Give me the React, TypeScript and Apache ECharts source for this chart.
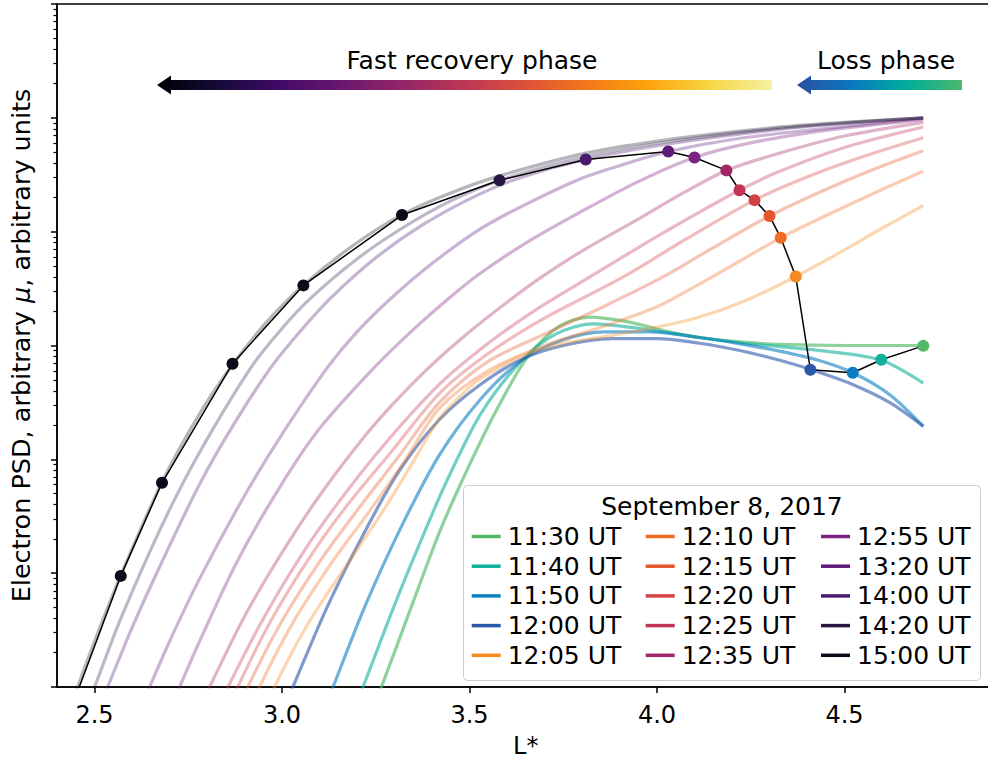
import React, { useEffect, useRef } from 'react';
import * as echarts from 'echarts';

const FONT = 'DejaVu Sans';

// Legend entries (times) and their colours
const TIMES = [
  '11:30 UT', '11:40 UT', '11:50 UT', '12:00 UT', '12:05 UT',
  '12:10 UT', '12:15 UT', '12:20 UT', '12:25 UT', '12:35 UT',
  '12:55 UT', '13:20 UT', '14:00 UT', '14:20 UT', '15:00 UT',
];
const COLORS = [
  '#52b866', '#12b09c', '#0b7ec2', '#2c58a8', '#f58a1f',
  '#f06c22', '#e4562c', '#d34045', '#c23456', '#a32668',
  '#7c2280', '#5e1a7a', '#4a1a6e', '#261442', '#0d0a1c',
];
const ALPHAS = [0.65, 0.6, 0.6, 0.6, 0.35, 0.35, 0.35, 0.35, 0.35, 0.35, 0.35, 0.33, 0.32, 0.3, 0.3];

// Profiles: [L*, log10 PSD]
const C1130 = [[3.21, -0.45], [3.265, 0], [3.35, 0.75], [3.42, 1.36], [3.487, 1.86], [3.57, 2.42], [3.655, 2.9], [3.74, 3.17], [3.82, 3.25], [3.92, 3.21], [4.02, 3.13], [4.113, 3.07], [4.23, 3.03], [4.327, 3.01], [4.5, 3.0], [4.71, 3.0]];
const C1140 = [[3.16, -0.45], [3.216, 0], [3.3, 0.72], [3.38, 1.36], [3.438, 1.8], [3.53, 2.4], [3.64, 2.87], [3.73, 3.1], [3.83, 3.19], [3.95, 3.15], [4.113, 3.07], [4.23, 3.02], [4.327, 2.99], [4.45, 2.95], [4.598, 2.87], [4.71, 2.67]];
const C1150 = [[3.08, -0.45], [3.136, 0], [3.22, 0.7], [3.32, 1.42], [3.42, 2.04], [3.53, 2.53], [3.64, 2.87], [3.75, 3.05], [3.86, 3.12], [3.98, 3.12], [4.113, 3.07], [4.23, 3.01], [4.327, 2.95], [4.43, 2.87], [4.522, 2.761], [4.62, 2.57], [4.71, 2.29]];
const C1200 = [[2.97, -0.45], [3.029, 0], [3.12, 0.7], [3.22, 1.36], [3.313, 1.9], [3.42, 2.35], [3.53, 2.66], [3.64, 2.88], [3.75, 3.0], [3.88, 3.06], [4.0, 3.06], [4.113, 3.02], [4.23, 2.95], [4.327, 2.87], [4.409, 2.79], [4.52, 2.66], [4.62, 2.5], [4.71, 2.29]];
const C1205 = [[2.93, -0.4], [2.98, 0], [3.07, 0.56], [3.17, 1.06], [3.27, 1.55], [3.35, 1.98], [3.42, 2.36], [3.48, 2.57], [3.53, 2.71], [3.642, 2.91], [3.75, 3.02], [3.864, 3.08], [3.998, 3.16], [4.113, 3.25], [4.24, 3.4], [4.37, 3.606], [4.5, 3.84], [4.6, 4.03], [4.71, 4.23]];
const C1210 = [[2.89, -0.4], [2.94, 0], [3.03, 0.57], [3.13, 1.08], [3.23, 1.53], [3.33, 2.0], [3.42, 2.45], [3.55, 2.78], [3.7, 3.0], [3.85, 3.16], [4.0, 3.34], [4.113, 3.54], [4.22, 3.74], [4.33, 3.946], [4.45, 4.14], [4.58, 4.34], [4.71, 4.53]];
const C1215 = [[2.86, -0.4], [2.909, 0], [3.0, 0.58], [3.1, 1.1], [3.2, 1.55], [3.31, 2.02], [3.42, 2.5], [3.55, 2.86], [3.7, 3.1], [3.85, 3.33], [4.015, 3.6], [4.15, 3.86], [4.3, 4.138], [4.45, 4.37], [4.58, 4.55], [4.71, 4.71]];
const C1220 = [[2.83, -0.4], [2.882, 0], [2.97, 0.58], [3.07, 1.12], [3.17, 1.58], [3.29, 2.06], [3.42, 2.58], [3.55, 2.93], [3.7, 3.24], [3.909, 3.6], [4.08, 3.94], [4.26, 4.277], [4.4, 4.48], [4.55, 4.66], [4.71, 4.825]];
const C1225 = [[2.8, -0.4], [2.856, 0], [2.95, 0.6], [3.05, 1.15], [3.15, 1.62], [3.27, 2.12], [3.42, 2.66], [3.55, 3.02], [3.68, 3.32], [3.82, 3.6], [3.95, 3.86], [4.08, 4.11], [4.22, 4.364], [4.327, 4.53], [4.5, 4.74], [4.71, 4.92]];
const C1235 = [[2.75, -0.4], [2.807, 0], [2.9, 0.62], [3.0, 1.18], [3.1, 1.68], [3.22, 2.2], [3.3, 2.5], [3.393, 2.81], [3.5, 3.12], [3.6, 3.38], [3.687, 3.59], [3.8, 3.83], [3.95, 4.11], [4.07, 4.34], [4.185, 4.538], [4.327, 4.69], [4.5, 4.84], [4.71, 4.96]];
const C1255 = [[2.67, -0.45], [2.727, 0], [2.78, 0.4], [2.88, 1.1], [2.993, 1.75], [3.1, 2.27], [3.247, 2.81], [3.35, 3.14], [3.447, 3.42], [3.527, 3.63], [3.65, 3.9], [3.8, 4.18], [3.95, 4.44], [4.1, 4.652], [4.25, 4.78], [4.45, 4.89], [4.71, 4.985]];
const C1320 = [[2.58, -0.5], [2.647, 0], [2.7, 0.4], [2.78, 0.95], [2.9, 1.68], [3.0, 2.22], [3.122, 2.81], [3.2, 3.12], [3.296, 3.43], [3.4, 3.72], [3.527, 4.02], [3.65, 4.24], [3.8, 4.47], [3.92, 4.6], [4.03, 4.704], [4.2, 4.81], [4.4, 4.89], [4.71, 4.995]];
const C1400 = [[2.47, -0.5], [2.535, 0], [2.6, 0.52], [2.68, 1.1], [2.78, 1.78], [2.87, 2.3], [2.971, 2.81], [3.05, 3.13], [3.131, 3.42], [3.25, 3.77], [3.38, 4.07], [3.527, 4.33], [3.65, 4.49], [3.81, 4.634], [4.03, 4.77], [4.33, 4.9], [4.52, 4.955], [4.71, 5.0]];
const C1420 = [[2.44, -0.48], [2.5, 0], [2.57, 0.6], [2.68, 1.42], [2.78, 2.06], [2.918, 2.81], [3.0, 3.15], [3.078, 3.42], [3.2, 3.76], [3.32, 4.03], [3.45, 4.27], [3.58, 4.45], [3.81, 4.66], [4.03, 4.79], [4.33, 4.91], [4.52, 4.96], [4.71, 5.0]];
const C1500 = [[2.4, -0.55], [2.455, 0], [2.5, 0.4], [2.57, 0.98], [2.68, 1.8], [2.78, 2.4], [2.87, 2.84], [2.96, 3.21], [3.057, 3.53], [3.19, 3.88], [3.32, 4.15], [3.45, 4.34], [3.58, 4.49], [3.81, 4.69], [4.03, 4.81], [4.33, 4.92], [4.52, 4.965], [4.71, 5.0]];
const CURVES = [C1130, C1140, C1150, C1200, C1205, C1210, C1215, C1220, C1225, C1235, C1255, C1320, C1400, C1420, C1500];

// Marked points tracking the profiles: L*, log10 PSD, index of colour
const TRACK_L = [4.71, 4.598, 4.522, 4.409, 4.37, 4.33, 4.3, 4.26, 4.22, 4.185, 4.1, 4.03, 3.81, 3.58, 3.32, 3.057, 2.868, 2.68, 2.57, 2.455];
const TRACK_V = [2.997, 2.875, 2.761, 2.787, 3.606, 3.946, 4.138, 4.277, 4.364, 4.538, 4.652, 4.704, 4.634, 4.451, 4.146, 3.528, 2.84, 1.794, 0.976, -0.04];
const TRACK_COLOR = [0, 1, 2, 3, 4, 5, 6, 7, 8, 9, 10, 11, 12, 13, 14, 14, 14, 14, 14, 14];

// Axis ticks
const X_TICKS = [2.5, 3.0, 3.5, 4.0, 4.5];
const Y_MAJOR = [1, 10, 100, 1000, 10000, 100000, 1000000];
const Y_DECADES = [1, 10, 100, 1000, 10000, 100000];
const Y_MINOR_MULT = [2, 3, 4, 5, 6, 7, 8, 9];

const LEGEND_TITLE = 'September 8, 2017';
const RECOVERY_LABEL = 'Fast recovery phase';
const LOSS_LABEL = 'Loss phase';
const X_NAME = 'L*';

const INFERNO = ['#000004', '#160b39', '#420a68', '#6a176e', '#932667', '#bc3754', '#dd513a', '#f37819', '#fca50a', '#f6d746', '#f4f1a2'];
const LOSS_GRAD = ['#2c4ea0', '#0a78c0', '#00ad9c', '#4cb86a'];

const LEGEND_COL_X = [471.7, 645.7, 821];

function rgba(hex: string, a: number) {
  const r = parseInt(hex.slice(1, 3), 16);
  const g = parseInt(hex.slice(3, 5), 16);
  const b = parseInt(hex.slice(5, 7), 16);
  return `rgba(${r},${g},${b},${a})`;
}

export default function App() {
  const ref = useRef<HTMLDivElement>(null);
  useEffect(() => {
    if (!ref.current) return;
    const chart = echarts.init(ref.current, undefined, { renderer: 'svg' });
    const minor: number[] = [];
    Y_DECADES.forEach((d) => Y_MINOR_MULT.forEach((m) => minor.push(d * m)));

    const curveSeries = CURVES.map((c, i) => ({
      type: 'line',
      name: TIMES[i],
      data: c.map(([l, v]) => [l, Math.pow(10, v)]),
      showSymbol: false,
      symbol: 'none',
      smooth: 0.3,
      silent: true,
      z: 2,
      lineStyle: { color: rgba(COLORS[i], ALPHAS[i]), width: 3.2 },
      itemStyle: { color: COLORS[i] },
    }));

    const trackSeries = {
      type: 'line',
      name: 'track',
      data: TRACK_L.map((l, i) => ({
        value: [l, Math.pow(10, TRACK_V[i])],
        itemStyle: { color: COLORS[TRACK_COLOR[i]] },
      })),
      symbol: 'circle',
      symbolSize: 12,
      showSymbol: true,
      silent: true,
      z: 5,
      lineStyle: { color: '#000', width: 1.5 },
      itemStyle: { color: '#000', borderWidth: 0 },
    };

    const axisLineStyle = { color: '#000', width: 1.5 };

    const legends = [0, 1, 2].map((col) => ({
      data: TIMES.slice(col * 5, col * 5 + 5).map((t, j) => ({
        name: t,
        itemStyle: { color: COLORS[col * 5 + j], opacity: 1, borderWidth: 0 },
      })),
      orient: 'vertical', left: LEGEND_COL_X[col], top: 524, padding: 0,
      itemGap: 4.7, itemWidth: 29, itemHeight: 3.5, icon: 'rect',
      selectedMode: false, z: 150,
      textStyle: { fontSize: 25, color: '#000', fontFamily: FONT, padding: [0, 0, 0, 2] },
    }));

    const option: any = {
      animation: false,
      textStyle: { fontFamily: FONT },
      grid: { left: 57, top: 4, width: 937.5, height: 689, show: true, borderColor: '#000', borderWidth: 1.5, backgroundColor: 'transparent' },
      xAxis: {
        type: 'value', min: 2.4, max: 4.9,
        name: X_NAME, nameLocation: 'middle', nameGap: 47,
        nameTextStyle: { fontSize: 24, color: '#000', fontFamily: FONT },
        axisLine: { lineStyle: axisLineStyle },
        axisTick: { customValues: X_TICKS, length: 6, lineStyle: axisLineStyle },
        axisLabel: { customValues: X_TICKS, formatter: (v: number) => v.toFixed(1), fontSize: 24, color: '#000', margin: 16, fontFamily: FONT },
        splitLine: { show: false },
      },
      yAxis: [
        {
          type: 'log', logBase: 10, min: 1, max: 1000000,
          name: '{a|Electron PSD, arbitrary }{b|μ}{a|, arbitrary units}',
          nameLocation: 'middle', nameGap: 23,
          nameTextStyle: {
            color: '#000',
            rich: {
              a: { fontSize: 25.5, fontFamily: FONT, color: '#000' },
              b: { fontSize: 25.5, fontFamily: FONT, fontStyle: 'italic', color: '#000' },
            },
          },
          axisLine: { lineStyle: axisLineStyle },
          axisTick: { customValues: Y_MAJOR, length: 6, lineStyle: axisLineStyle },
          axisLabel: { show: false },
          splitLine: { show: false },
        },
        {
          type: 'log', logBase: 10, min: 1, max: 1000000, position: 'left',
          axisLine: { show: false },
          axisTick: { customValues: minor, length: 3.5, lineStyle: { color: '#000', width: 1.2 } },
          axisLabel: { show: false },
          splitLine: { show: false },
        },
      ],
      legend: legends,
      graphic: [
        {
          type: 'rect', z: 100,
          shape: { x: 463.5, y: 485.5, width: 517, height: 195, r: 4 },
          style: { fill: 'rgba(255,255,255,0.85)', stroke: '#cccccc', lineWidth: 1 },
        },
        {
          type: 'text', z: 101, x: 722, y: 506,
          style: { text: LEGEND_TITLE, fill: '#000', font: `25px "${FONT}"`, textAlign: 'center', textVerticalAlign: 'middle' },
        },
        {
          type: 'polygon', z: 100,
          shape: { points: [[157, 85], [171, 75.5], [171, 80], [772, 80], [772, 90], [171, 90], [171, 94.5]] },
          style: {
            fill: new echarts.graphic.LinearGradient(0, 0, 1, 0, INFERNO.map((c, i) => ({ offset: i / (INFERNO.length - 1), color: c }))),
          },
        },
        {
          type: 'polygon', z: 100,
          shape: { points: [[797, 85], [811, 75.5], [811, 80], [962, 80], [962, 90], [811, 90], [811, 94.5]] },
          style: {
            fill: new echarts.graphic.LinearGradient(0, 0, 1, 0, LOSS_GRAD.map((c, i) => ({ offset: i / (LOSS_GRAD.length - 1), color: c }))),
          },
        },
        {
          type: 'text', z: 101, x: 472, y: 60,
          style: { text: RECOVERY_LABEL, fill: '#000', font: `25px "${FONT}"`, textAlign: 'center', textVerticalAlign: 'middle' },
        },
        {
          type: 'text', z: 101, x: 886, y: 60,
          style: { text: LOSS_LABEL, fill: '#000', font: `25px "${FONT}"`, textAlign: 'center', textVerticalAlign: 'middle' },
        },
      ],
      series: [...curveSeries, trackSeries],
    };
    chart.setOption(option);
    return () => chart.dispose();
  }, []);
  return (
    <div style={{ position: 'fixed', left: 0, top: 0, width: 988, height: 763, overflow: 'hidden', background: '#fff' }}>
      <div ref={ref} style={{ width: 1000, height: 763 }} />
    </div>
  );
}
